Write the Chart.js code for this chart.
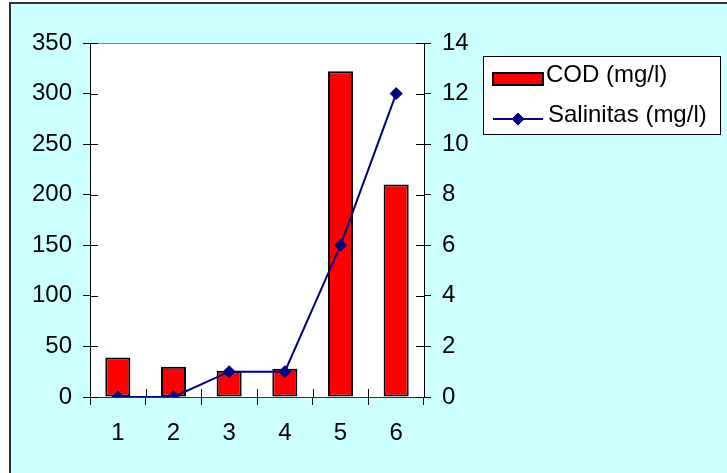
<!DOCTYPE html>
<html>
<head>
<meta charset="utf-8">
<script src="https://cdn.jsdelivr.net/npm/chart.js@4/dist/chart.umd.min.js"></script>
<style>
  html, body { margin: 0; padding: 0; background: #ffffff; }
  #wrap { width: 727px; height: 473px; position: relative; }
  canvas { display: block; }
</style>
</head>
<body>
<div id="wrap"><canvas id="chart" width="727" height="473"></canvas></div>
<script>
// Sample numbers on the x axis
const categories = ['1', '2', '3', '4', '5', '6'];
// COD per sample (mg/l), left axis
const codValues = [39, 30, 26, 28, 322, 210];
// Salinity per sample (mg/l), right axis
const salinitasValues = [0, 0, 1, 1, 6, 12];
// Axis tick values
const leftTickValues = [0, 50, 100, 150, 200, 250, 300, 350];
const rightTickValues = [0, 2, 4, 6, 8, 10, 12, 14];

const FONT = '"Liberation Sans", Arial, Helvetica, sans-serif';
const FONT_SIZE = 24;
const NAVY = '#000080';

// Page background, outer frame and white plot area
const backdrop = {
  id: 'backdrop',
  beforeDraw(chart) {
    const { ctx, chartArea: a, width, height } = chart;
    ctx.save();
    ctx.fillStyle = '#ffffff';
    ctx.fillRect(0, 0, width, height);
    ctx.fillStyle = '#CCFFFF';
    ctx.fillRect(9, 2, width - 9, height - 2);
    ctx.fillStyle = '#333333';
    ctx.fillRect(9, 2, 2, height - 2);
    ctx.fillRect(9, 2, width - 9, 2);
    ctx.fillStyle = '#ffffff';
    ctx.fillRect(a.left, a.top, a.right - a.left, a.bottom - a.top);
    ctx.strokeStyle = '#808080';
    ctx.lineWidth = 1;
    ctx.beginPath();
    ctx.moveTo(a.left, Math.round(a.top) + 0.5);
    ctx.lineTo(a.right, Math.round(a.top) + 0.5);
    ctx.stroke();
    ctx.restore();
  }
};

// Tick marks that cross each axis: the inner half of every tick
const innerTicks = {
  id: 'innerTicks',
  afterDraw(chart) {
    const { ctx, chartArea: a, scales } = chart;
    ctx.save();
    ctx.strokeStyle = '#000000';
    ctx.lineWidth = 1;
    ctx.beginPath();
    scales.y.ticks.forEach((t, i) => {
      const py = Math.round(scales.y.getPixelForTick(i)) + 0.5;
      ctx.moveTo(a.left, py); ctx.lineTo(a.left + 8, py);
    });
    scales.y1.ticks.forEach((t, i) => {
      const py = Math.round(scales.y1.getPixelForTick(i)) + 0.5;
      ctx.moveTo(a.right, py); ctx.lineTo(a.right - 8, py);
    });
    const xs = scales.x;
    for (let i = 0; i <= xs.ticks.length; i++) {
      const px = Math.round(xs.getPixelForValue(i - 0.5)) + 0.5;
      ctx.moveTo(px, a.bottom); ctx.lineTo(px, a.bottom - 8);
    }
    ctx.stroke();
    ctx.restore();
  }
};

// Boxed legend to the right of the plot
const boxLegend = {
  id: 'boxLegend',
  afterDraw(chart) {
    const { ctx } = chart;
    const bar = chart.data.datasets[0];
    const line = chart.data.datasets[1];
    ctx.save();
    ctx.fillStyle = '#ffffff';
    ctx.fillRect(483, 56, 237, 78);
    ctx.strokeStyle = '#000000';
    ctx.lineWidth = 1;
    ctx.strokeRect(483.5, 56.5, 237, 78);

    ctx.fillStyle = bar.backgroundColor;
    ctx.fillRect(493, 73, 50, 12);
    ctx.lineWidth = 2;
    ctx.strokeStyle = bar.borderColor;
    ctx.strokeRect(493, 73, 50, 12);

    ctx.strokeStyle = line.borderColor;
    ctx.lineWidth = 2;
    ctx.beginPath();
    ctx.moveTo(493, 119); ctx.lineTo(543, 119);
    ctx.stroke();
    ctx.fillStyle = line.pointBackgroundColor;
    ctx.lineWidth = 1;
    Chart.helpers.drawPoint(ctx, { pointStyle: 'rectRot', radius: line.pointRadius, borderWidth: 1 }, 518, 119);

    ctx.fillStyle = '#000000';
    ctx.font = FONT_SIZE + 'px ' + FONT;
    ctx.textBaseline = 'alphabetic';
    ctx.textAlign = 'left';
    ctx.fillText(bar.label, 546, 82);
    ctx.fillText(line.label, 548, 122);
    ctx.restore();
  }
};

new Chart(document.getElementById('chart'), {
  data: {
    labels: categories,
    datasets: [
      {
        type: 'bar',
        label: 'COD (mg/l)',
        data: codValues,
        yAxisID: 'y',
        backgroundColor: '#FF0000',
        borderColor: '#000000',
        borderWidth: 2,
        borderSkipped: false,
        categoryPercentage: 1.0,
        barPercentage: 0.45,
        order: 2
      },
      {
        type: 'line',
        label: 'Salinitas (mg/l)',
        data: salinitasValues,
        yAxisID: 'y1',
        borderColor: NAVY,
        borderWidth: 2,
        backgroundColor: NAVY,
        pointBackgroundColor: NAVY,
        pointBorderColor: NAVY,
        pointStyle: 'rectRot',
        pointRadius: 6,
        pointBorderWidth: 1,
        tension: 0,
        fill: false,
        order: 1
      }
    ]
  },
  options: {
    responsive: false,
    animation: false,
    devicePixelRatio: 1,
    layout: { padding: { left: 0, top: 43, right: 243, bottom: 0 } },
    plugins: {
      legend: { display: false },
      tooltip: { enabled: false },
      title: { display: false }
    },
    scales: {
      x: {
        type: 'category',
        offset: true,
        grid: { offset: true, drawOnChartArea: false, drawTicks: true, tickLength: 8, color: '#000000', lineWidth: 1 },
        border: { display: true, color: '#333333', width: 1 },
        ticks: { color: '#000000', font: { family: FONT, size: FONT_SIZE }, padding: 14, maxRotation: 0 },
        afterFit(s) { s.height = 76; }
      },
      y: {
        type: 'linear',
        position: 'left',
        min: 0,
        max: 350,
        afterBuildTicks(s) { s.ticks = leftTickValues.map(v => ({ value: v })); },
        grid: { drawOnChartArea: false, drawTicks: true, tickLength: 7, color: '#000000' },
        border: { display: true, color: '#000000', width: 1 },
        ticks: { color: '#000000', font: { family: FONT, size: FONT_SIZE }, padding: 11 },
        afterFit(s) { s.width = 90; }
      },
      y1: {
        type: 'linear',
        position: 'right',
        min: 0,
        max: 14,
        afterBuildTicks(s) { s.ticks = rightTickValues.map(v => ({ value: v })); },
        grid: { drawOnChartArea: false, drawTicks: true, tickLength: 7, color: '#000000' },
        border: { display: true, color: '#000000', width: 1 },
        ticks: { color: '#000000', font: { family: FONT, size: FONT_SIZE }, padding: 11 },
        afterFit(s) { s.width = 60; }
      }
    }
  },
  plugins: [backdrop, innerTicks, boxLegend]
});
</script>
</body>
</html>
